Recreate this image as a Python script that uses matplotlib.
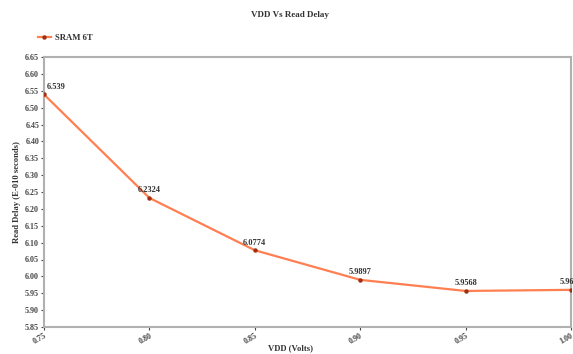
import matplotlib
matplotlib.use("Agg")
import matplotlib.pyplot as plt

vdd = [0.75, 0.80, 0.85, 0.90, 0.95, 1.00]
delay = [6.539, 6.2324, 6.0774, 5.9897, 5.9568, 5.9601]
labels = ["6.539", "6.2324", "6.0774", "5.9897", "5.9568", "5.9601"]
yticks = [5.85, 5.90, 5.95, 6.00, 6.05, 6.10, 6.15, 6.20, 6.25, 6.30,
          6.35, 6.40, 6.45, 6.50, 6.55, 6.60, 6.65]
xticks = [0.75, 0.80, 0.85, 0.90, 0.95, 1.00]
xticklabels = ["0.75", "0.80", "0.85", "0.90", "0.95", "1.00"]

plt.rcParams['font.family'] = ['Liberation Serif', 'DejaVu Serif']
plt.rcParams['font.weight'] = 'bold'

W, H = 573, 354
fig = plt.figure(figsize=(W / 100, H / 100), dpi=100)
ax = fig.add_axes([44 / W, 1 - 327 / H, (571 - 44) / W, (327 - 57) / H])

ax.plot(vdd, delay, color='#ff7f50', lw=1.6, marker='o', ms=2.2,
        mfc='#a03010', mec='#a03010', label='SRAM 6T', zorder=3)

for i, (x, y, t) in enumerate(zip(vdd, delay, labels)):
    ha = 'left' if i == 0 else 'center'
    dx = 2 if i == 0 else 0
    ax.annotate(t, (x, y), xytext=(dx, 2.5), textcoords='offset points',
                ha=ha, va='bottom', fontsize=6, fontweight='bold',
                color='#333333', annotation_clip=False)

ax.set_xlim(0.75, 1.0)
ax.set_ylim(5.85, 6.65)
ax.set_yticks(yticks)
ax.set_yticklabels([f"{v:.2f}" for v in yticks])
ax.set_xticks(xticks)
ax.set_xticklabels(xticklabels, rotation=30, ha='right', rotation_mode='anchor')
ax.tick_params(axis='both', labelsize=5.8, colors='#444444', length=2,
               width=0.8, pad=1.5)
for lab in ax.get_xticklabels() + ax.get_yticklabels():
    lab.set_fontweight('bold')
for sp in ax.spines.values():
    sp.set_color('#b0b0b0')
    sp.set_linewidth(1.5)

fig.text(290 / W, 1 - 348 / H, 'VDD (Volts)', ha='center', va='center',
         fontsize=6.2, fontweight='bold', color='#333333')
ax.set_ylabel('Read Delay (E-010 seconds)', fontsize=6.2, fontweight='bold', color='#333333', labelpad=3)
fig.text(290 / W, 1 - 15 / H, 'VDD Vs Read Delay', ha='center', va='center',
         fontsize=6.5, fontweight='bold', color='#333333')

leg = fig.legend(loc='center left', bbox_to_anchor=(38 / W, 1 - 38 / H),
                 frameon=False, fontsize=6.2, handlelength=1.5, handletextpad=0.5,
                 borderpad=0, borderaxespad=0)
for t in leg.get_texts():
    t.set_fontweight('bold')
    t.set_color('#333333')

fig.savefig('out.png', dpi=100)
